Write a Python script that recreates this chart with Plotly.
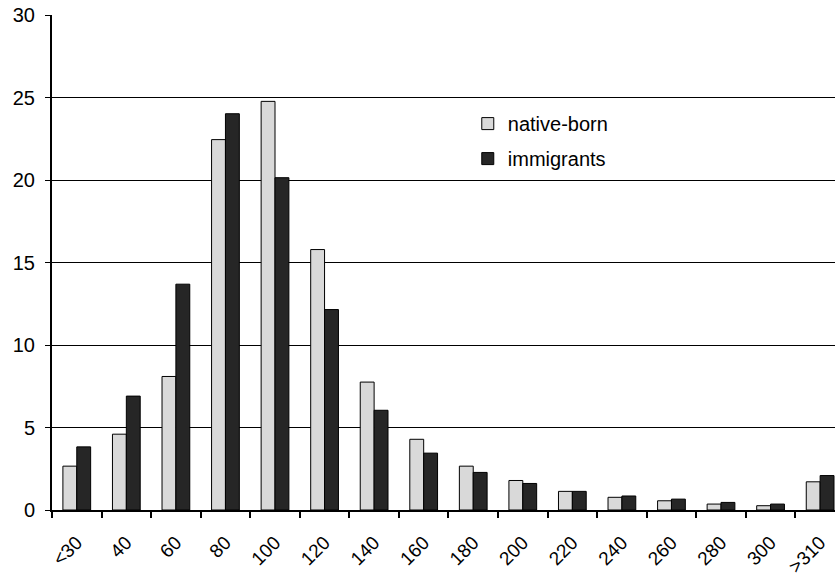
import plotly.graph_objects as go

categories = ["<30", "40", "60", "80", "100", "120", "140", "160", "180", "200",
              "220", "240", "260", "280", "300", ">310"]
native_born = [2.66, 4.6, 8.1, 22.47, 24.79, 15.8, 7.76, 4.29, 2.66, 1.79,
               1.13, 0.77, 0.56, 0.36, 0.26, 1.71]
immigrants = [3.83, 6.91, 13.7, 24.04, 20.16, 12.16, 6.05, 3.45, 2.28, 1.61,
              1.13, 0.85, 0.66, 0.46, 0.36, 2.09]
y_ticks = [0, 5, 10, 15, 20, 25, 30]

FONT = "Liberation Sans, Arial, sans-serif"

fig = go.Figure()
fig.add_trace(go.Bar(x=categories, y=native_born, name="native-born",
                     marker=dict(color="#d9d9d9", line=dict(color="#000000", width=1)),
                     legendgroup="a"))
fig.add_trace(go.Bar(x=categories, y=immigrants, name="immigrants",
                     marker=dict(color="#262626", line=dict(color="#000000", width=1)),
                     legendgroup="b"))

fig.update_layout(
    width=835, height=576,
    margin=dict(l=52, r=0, t=15, b=66, autoexpand=False),
    paper_bgcolor="white", plot_bgcolor="white",
    font=dict(family=FONT, color="#000000"),
    barmode="group", bargap=0.44, bargroupgap=0,
    showlegend=True,
    legend=dict(x=0.531, y=0.82, xanchor="left", yanchor="top",
                font=dict(size=20, family=FONT), bgcolor="rgba(0,0,0,0)",
                tracegroupgap=6, itemwidth=30),
    xaxis=dict(type="category", range=[-0.5, 15.3], tickson="boundaries",
               ticks="outside", ticklen=6, tickwidth=1.5, tickcolor="#000000",
               tickangle=-45, tickfont=dict(size=19), ticklabelstandoff=12,
               showline=True, linecolor="#000000", linewidth=2,
               showgrid=False),
    yaxis=dict(range=[0, 30.03], tickvals=y_ticks, ticks="outside", ticklen=5,
               tickcolor="#000000", tickfont=dict(size=20),
               ticklabeloverflow="allow", ticklabelstandoff=6,
               showline=True, linecolor="#000000", linewidth=2,
               showgrid=True, gridcolor="#000000", gridwidth=1.3,
               zeroline=False),
)

# remove the default 8px page margin so the figure fills the window exactly
fig.write_html("out.html",
               config={"displayModeBar": False},
               post_script="document.body.style.margin='0';document.body.style.overflow='hidden';")
